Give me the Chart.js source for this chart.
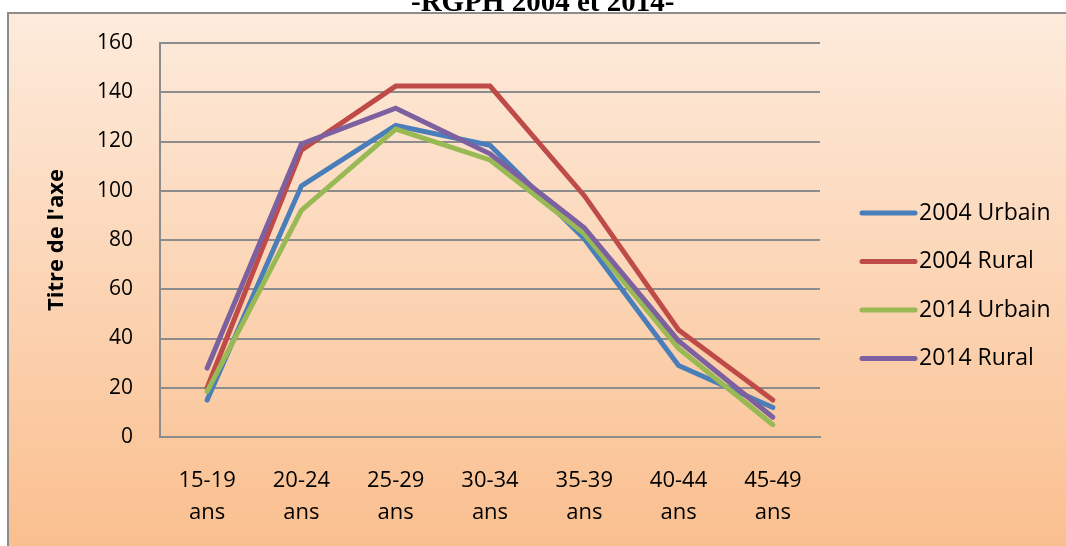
<!DOCTYPE html>
<html>
<head>
<meta charset="utf-8">
<script src="https://cdn.jsdelivr.net/npm/chart.js@4.4.0/dist/chart.umd.min.js"></script>
<style>
  body { margin: 0; background: #fff; }
  #wrap { position: relative; width: 1066px; height: 546px; overflow: hidden; }
  #graph { position: absolute; left: 0; top: 0; }
  #titre {
    position: absolute; left: 411px; top: -13px; width: 262px;
    text-align: center; white-space: nowrap;
    font: bold 29px/29px "Liberation Serif", "Times New Roman", serif; color: #000;
  }
</style>
</head>
<body>
<div id="wrap">
  <canvas id="graph" width="1066" height="546"></canvas>
  <div id="titre">-RGPH 2004 et 2014-</div>
</div>
<script>
// Tranches d'age (deux lignes par etiquette)
let categories = [
  ['15-19', 'ans'], ['20-24', 'ans'], ['25-29', 'ans'], ['30-34', 'ans'],
  ['35-39', 'ans'], ['40-44', 'ans'], ['45-49', 'ans']
];
let seriesNames = ['2004 Urbain', '2004 Rural', '2014 Urbain', '2014 Rural'];
let urbain2004 = [15, 102, 126.5, 118.5, 80.5, 29, 12];
let rural2004  = [20, 116.5, 142.5, 142.5, 98, 43.5, 15];
let urbain2014 = [18.5, 92, 125, 112.5, 82.5, 36, 5];
let rural2014  = [28, 119, 133.5, 115, 85, 39, 8];
let yTicks = [0, 20, 40, 60, 80, 100, 120, 140, 160];

let couleurs = ['#4a7ebb', '#be4b48', '#98b954', '#7d60a0'];
let police = '"Open Sans", "Noto Sans", sans-serif';

window.onload = function () {
  setGraph();
};

// fond degrade + cadre gris
let fondPlugin = {
  id: 'fond',
  beforeDraw: function (chart) {
    let ctx = chart.ctx;
    ctx.save();
    ctx.fillStyle = '#ffffff';
    ctx.fillRect(0, 0, chart.width, chart.height);
    let grad = ctx.createLinearGradient(0, 13, 0, chart.height);
    grad.addColorStop(0, '#fdebdc');
    grad.addColorStop(1, '#fabf8f');
    ctx.fillStyle = grad;
    ctx.fillRect(8, 13, chart.width, chart.height);
    ctx.strokeStyle = '#8c8c8c';
    ctx.lineWidth = 2;
    ctx.beginPath();
    ctx.moveTo(8, chart.height + 5);
    ctx.lineTo(8, 13);
    ctx.lineTo(chart.width + 5, 13);
    ctx.stroke();
    ctx.restore();
  }
};

// legende a droite, dessinee a la main (trait + texte)
let legendePlugin = {
  id: 'legendeDroite',
  afterDraw: function (chart) {
    let ctx = chart.ctx;
    let area = chart.chartArea;
    ctx.save();
    ctx.font = '23px ' + police;
    ctx.textBaseline = 'middle';
    ctx.fillStyle = '#000';
    chart.data.datasets.forEach(function (ds, i) {
      let y = area.top + 170 + i * 48.5;
      let x0 = area.right + 42;
      ctx.strokeStyle = ds.borderColor;
      ctx.lineWidth = 5;
      ctx.lineCap = 'round';
      ctx.beginPath();
      ctx.moveTo(x0, y);
      ctx.lineTo(x0 + 53, y);
      ctx.stroke();
      ctx.fillText(ds.label, x0 + 57, y);
    });
    ctx.restore();
  }
};

function setGraph() {
  let ctx = document.getElementById('graph');
  let valeurs = [urbain2004, rural2004, urbain2014, rural2014];
  let datasets = valeurs.map(function (v, i) {
    return {
      label: seriesNames[i],
      data: v,
      borderColor: couleurs[i],
      backgroundColor: couleurs[i],
      borderWidth: 5,
      borderCapStyle: 'round',
      borderJoinStyle: 'miter',
      pointRadius: 0,
      tension: 0,
      fill: false,
      order: valeurs.length - i
    };
  });

  new Chart(ctx, {
    type: 'line',
    data: { labels: categories, datasets: datasets },
    plugins: [fondPlugin, legendePlugin],
    options: {
      responsive: false,
      animation: false,
      layout: { padding: { top: 43, right: 246, bottom: 0, left: 0 } },
      plugins: {
        legend: { display: false },
        tooltip: { enabled: false }
      },
      scales: {
        x: {
          offset: true,
          grid: { display: false, offset: true },
          border: { display: true, color: '#8c8c8c', width: 2 },
          ticks: {
            color: '#000',
            padding: 20,
            maxRotation: 0,
            font: { family: police, size: 22, lineHeight: 1.45 }
          },
          afterFit: function (scale) { scale.height = 109; }
        },
        y: {
          min: 0,
          max: 160,
          afterBuildTicks: function (scale) {
            scale.ticks = yTicks.map(function (v) { return { value: v }; });
          },
          grid: { color: '#8c8c8c', lineWidth: 2, drawTicks: false },
          border: { display: true, color: '#8c8c8c', width: 2 },
          ticks: {
            color: '#000',
            padding: 27,
            font: { family: police, size: 21 }
          },
          title: {
            display: true,
            text: "Titre de l'axe",
            color: '#000',
            padding: { top: 44, bottom: 0 },
            font: { family: police, size: 22, weight: 'bold', lineHeight: 1.2 }
          },
          afterFit: function (scale) { scale.width = 160; }
        }
      }
    }
  });
}
</script>
</body>
</html>
